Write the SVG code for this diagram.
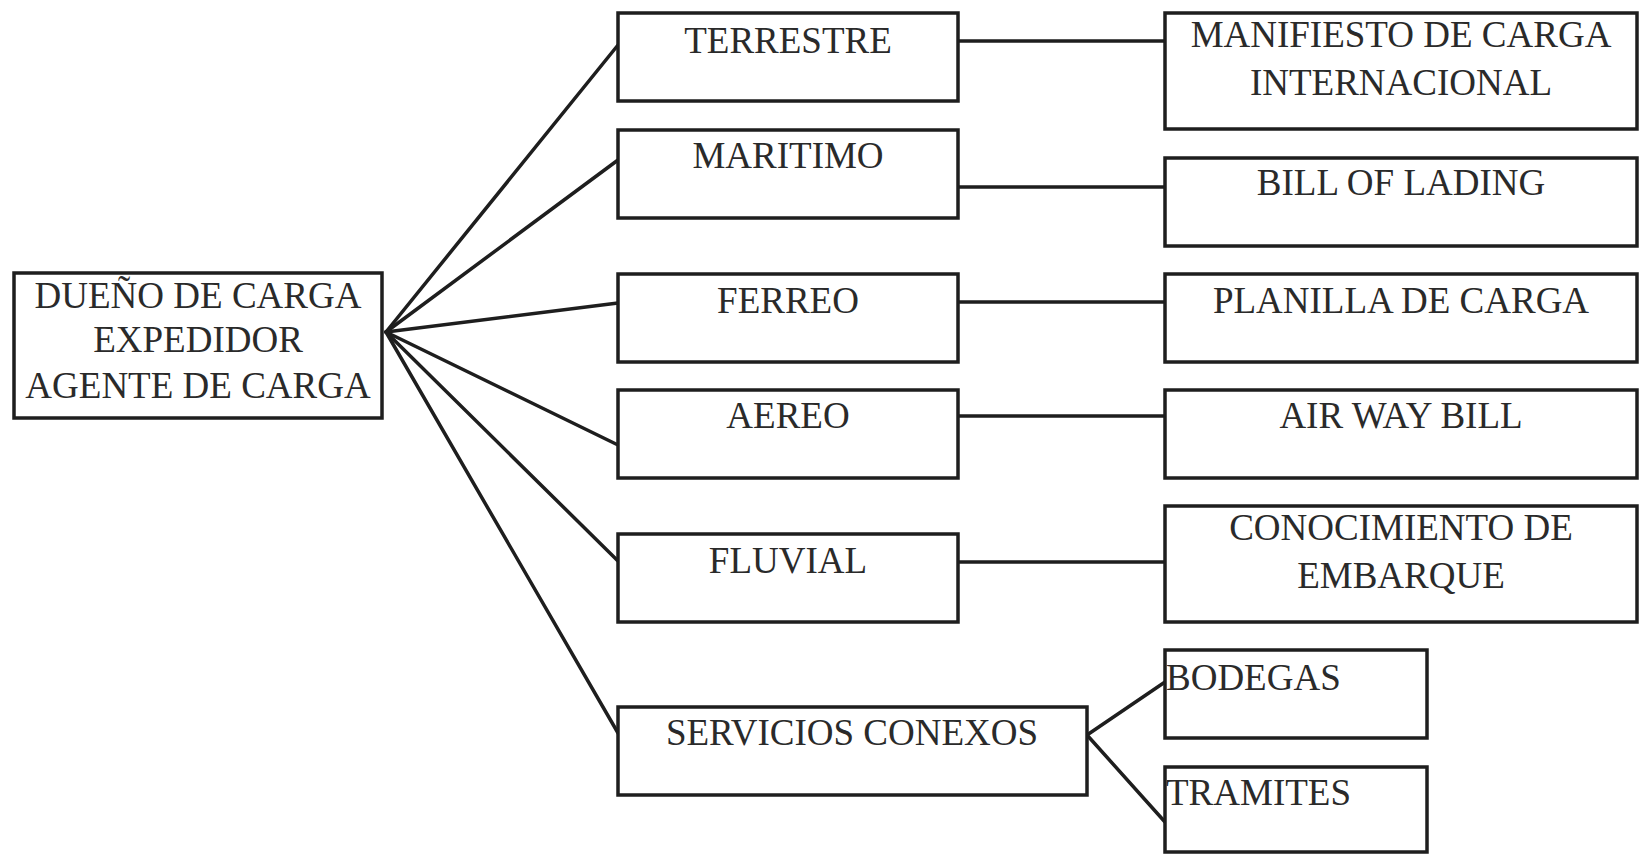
<svg xmlns="http://www.w3.org/2000/svg" width="1642" height="854" viewBox="0 0 1642 854">
<style>
.box{fill:#fff;stroke:#1e1e1e;stroke-width:3.5}
.ln{stroke:#1e1e1e;stroke-width:3.5;fill:none;stroke-linecap:round}
text{font-family:"Liberation Serif","Times New Roman",serif;font-size:37px;fill:#2a2a2a}
.c{text-anchor:middle}
</style>
<rect width="1642" height="854" fill="#fff"/>
<g id="connectors">
<line class="ln" x1="386" y1="332" x2="618" y2="45"/>
<line class="ln" x1="386" y1="332" x2="618" y2="160"/>
<line class="ln" x1="386" y1="332" x2="618" y2="303"/>
<line class="ln" x1="386" y1="332" x2="618" y2="445"/>
<line class="ln" x1="386" y1="332" x2="618" y2="561"/>
<line class="ln" x1="386" y1="332" x2="618" y2="733"/>
<line class="ln" x1="958" y1="41" x2="1165" y2="41"/>
<line class="ln" x1="958" y1="187" x2="1165" y2="187"/>
<line class="ln" x1="958" y1="302" x2="1165" y2="302"/>
<line class="ln" x1="958" y1="416" x2="1165" y2="416"/>
<line class="ln" x1="958" y1="562" x2="1165" y2="562"/>
<line class="ln" x1="1087" y1="735" x2="1165" y2="682"/>
<line class="ln" x1="1087" y1="735" x2="1165" y2="822"/>
</g>
<g id="n-dueno">
<rect class="box" x="14" y="273" width="368" height="145"/>
<text class="c" x="198" y="308">DUEÑO DE CARGA</text>
<text class="c" x="198" y="352">EXPEDIDOR</text>
<text class="c" x="198" y="398">AGENTE DE CARGA</text>
</g>
<g id="n-terrestre">
<rect class="box" x="618" y="13" width="340" height="88"/>
<text class="c" x="788" y="53">TERRESTRE</text>
</g>
<g id="n-maritimo">
<rect class="box" x="618" y="130" width="340" height="88"/>
<text class="c" x="788" y="168">MARITIMO</text>
</g>
<g id="n-ferreo">
<rect class="box" x="618" y="274" width="340" height="88"/>
<text class="c" x="788" y="313">FERREO</text>
</g>
<g id="n-aereo">
<rect class="box" x="618" y="390" width="340" height="88"/>
<text class="c" x="788" y="428">AEREO</text>
</g>
<g id="n-fluvial">
<rect class="box" x="618" y="534" width="340" height="88"/>
<text class="c" x="788" y="573">FLUVIAL</text>
</g>
<g id="n-servicios">
<rect class="box" x="618" y="707" width="469" height="88"/>
<text class="c" x="852" y="745">SERVICIOS CONEXOS</text>
</g>
<g id="n-manifiesto">
<rect class="box" x="1165" y="13" width="472" height="116"/>
<text class="c" x="1401" y="47">MANIFIESTO DE CARGA</text>
<text class="c" x="1401" y="95">INTERNACIONAL</text>
</g>
<g id="n-bill">
<rect class="box" x="1165" y="158" width="472" height="88"/>
<text class="c" x="1401" y="195">BILL OF LADING</text>
</g>
<g id="n-planilla">
<rect class="box" x="1165" y="274" width="472" height="88"/>
<text class="c" x="1401" y="313">PLANILLA DE CARGA</text>
</g>
<g id="n-airway">
<rect class="box" x="1165" y="390" width="472" height="88"/>
<text class="c" x="1401" y="428">AIR WAY BILL</text>
</g>
<g id="n-conocimiento">
<rect class="box" x="1165" y="506" width="472" height="116"/>
<text class="c" x="1401" y="540">CONOCIMIENTO DE</text>
<text class="c" x="1401" y="588">EMBARQUE</text>
</g>
<g id="n-bodegas">
<rect class="box" x="1165" y="650" width="262" height="88"/>
<text x="1166" y="690">BODEGAS</text>
</g>
<g id="n-tramites">
<rect class="box" x="1165" y="767" width="262" height="85"/>
<text x="1166" y="805">TRAMITES</text>
</g>
</svg>
